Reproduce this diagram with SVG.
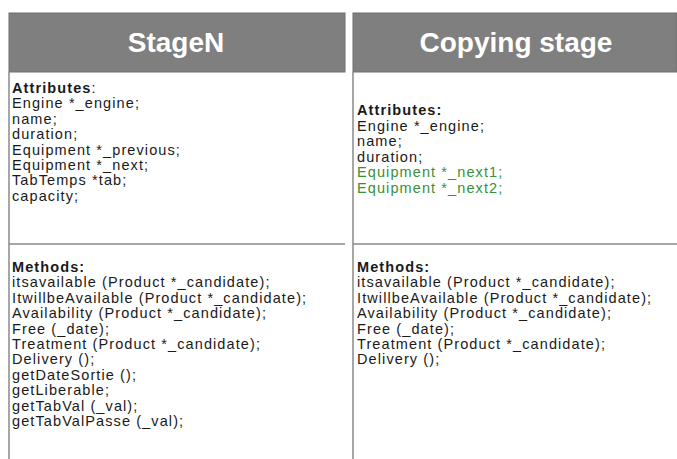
<svg xmlns="http://www.w3.org/2000/svg" width="677" height="459" viewBox="0 0 677 459">
<style>
.hdr{fill:#7f7f7f;stroke:#6e6e6e;stroke-width:1}
.ttl{font-family:"Liberation Sans",Arial,sans-serif;font-weight:bold;font-size:28px;fill:#ffffff;text-anchor:middle}
.txt{font-family:"Liberation Sans",Arial,sans-serif;font-size:14.5px;letter-spacing:1.1px;fill:#1a1a1a}
.b{font-weight:bold}
.g{fill:#3a8f3a}
.ln{stroke:#8a8a8a;stroke-width:1.5;fill:none}
</style>
<rect width="677" height="459" fill="#ffffff"/>
<g id="stageN">
<rect class="hdr" x="9" y="13" width="336" height="59"/>
<text class="ttl" x="176" y="52">StageN</text>
<line class="ln" x1="9" y1="72" x2="9" y2="459"/>
<line class="ln" x1="9" y1="244" x2="345" y2="244"/>
<text class="txt" x="12" y="93"><tspan class="b">Attributes</tspan>:<tspan x="12" dy="15.4">Engine *_engine;</tspan><tspan x="12" dy="15.4">name;</tspan><tspan x="12" dy="15.4">duration;</tspan><tspan x="12" dy="15.4">Equipment *_previous;</tspan><tspan x="12" dy="15.4">Equipment *_next;</tspan><tspan x="12" dy="15.4">TabTemps *tab;</tspan><tspan x="12" dy="15.4">capacity;</tspan></text>
<text class="txt" x="12" y="272"><tspan class="b">Methods:</tspan><tspan x="12" dy="15.4">itsavailable (Product *_candidate);</tspan><tspan x="12" dy="15.4">ItwillbeAvailable (Product *_candidate);</tspan><tspan x="12" dy="15.4">Availability (Product *_candidate);</tspan><tspan x="12" dy="15.4">Free (_date);</tspan><tspan x="12" dy="15.4">Treatment (Product *_candidate);</tspan><tspan x="12" dy="15.4">Delivery ();</tspan><tspan x="12" dy="15.4">getDateSortie ();</tspan><tspan x="12" dy="15.4">getLiberable;</tspan><tspan x="12" dy="15.4">getTabVal (_val);</tspan><tspan x="12" dy="15.4">getTabValPasse (_val);</tspan></text>
</g>
<g id="copyingStage">
<rect class="hdr" x="353" y="13" width="324" height="59"/>
<text class="ttl" x="516" y="52">Copying stage</text>
<line class="ln" x1="353" y1="72" x2="353" y2="459"/>
<line class="ln" x1="353" y1="244" x2="677" y2="244"/>
<text class="txt" x="357" y="115"><tspan class="b">Attributes:</tspan><tspan x="357" dy="15.5">Engine *_engine;</tspan><tspan x="357" dy="15.5">name;</tspan><tspan x="357" dy="15.5">duration;</tspan><tspan class="g" x="357" dy="15.5">Equipment *_next1;</tspan><tspan class="g" x="357" dy="15.5">Equipment *_next2;</tspan></text>
<text class="txt" x="357" y="272"><tspan class="b">Methods:</tspan><tspan x="357" dy="15.4">itsavailable (Product *_candidate);</tspan><tspan x="357" dy="15.4">ItwillbeAvailable (Product *_candidate);</tspan><tspan x="357" dy="15.4">Availability (Product *_candidate);</tspan><tspan x="357" dy="15.4">Free (_date);</tspan><tspan x="357" dy="15.4">Treatment (Product *_candidate);</tspan><tspan x="357" dy="15.4">Delivery ();</tspan></text>
</g>
<g id="connectors"/>
</svg>
